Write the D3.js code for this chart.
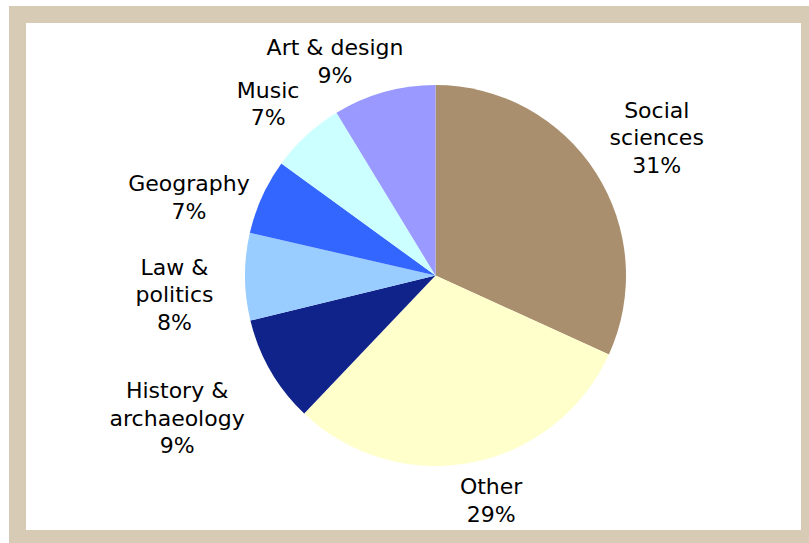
<!DOCTYPE html>
<html>
<head>
<meta charset="utf-8">
<script src="https://cdn.jsdelivr.net/npm/d3@7"></script>
<style>
  body { margin: 0; background: #ffffff; }
  text { font-family: "DejaVu Sans", Verdana, sans-serif; }
</style>
</head>
<body>
<div id="chart"></div>
<script>
// slice data, clockwise from 12 o'clock
var categories = ["Social sciences", "Other", "History & archaeology", "Law & politics", "Geography", "Music", "Art & design"]
var values = [31.8, 30.3, 9.1, 7.4, 6.4, 6.3, 8.7]
var pctLabels = ["31%", "29%", "9%", "8%", "7%", "7%", "9%"]
var labelLines = [["Social", "sciences"], ["Other"], ["History &", "archaeology"], ["Law &", "politics"], ["Geography"], ["Music"], ["Art & design"]]

var colors = ["#a98f6d", "#ffffcc", "#0f238a", "#99ccff", "#3366ff", "#ccffff", "#9999ff"]
// hand nudges for the label blocks (Excel placed them a bit freely)
var labelNudge = [[11, -3], [8, -21], [-42, 17], [-11, 17], [-19, 25], [2, 12], [-33, 26]]

const W = 809, H = 543
var cx = 435.5, cy = 275.5, radius = 190.5
var lineH = 27.5

var svg = d3.select("#chart")
  .append("svg")
  .attr("width", W)
  .attr("height", H)

// beige frame + white plot area
svg.append("rect")
  .attr("x", 9).attr("y", 6)
  .attr("width", W).attr("height", H)
  .attr("fill", "#d8cbb5")
svg.append("rect")
  .attr("x", 26).attr("y", 23)
  .attr("width", 775).attr("height", 507)
  .attr("fill", "#ffffff")

var data = categories.map(function(c, i) {
  return { name: c, value: values[i], pct: pctLabels[i], lines: labelLines[i], color: colors[i], nudge: labelNudge[i] }
})

var pie = d3.pie()
  .sort(null)
  .value(function(d) { return d.value; })

var arc = d3.arc().innerRadius(0).outerRadius(radius)
var labelArc = d3.arc().innerRadius(250).outerRadius(250)

var g = svg.append("g")
  .attr("transform", "translate(" + cx + "," + cy + ")")

var arcs = pie(data)

g.selectAll("path")
  .data(arcs)
  .enter()
  .append("path")
  .attr("d", arc)
  .attr("fill", function(d) { return d.data.color; })

var labels = g.selectAll("text.lbl")
  .data(arcs)
  .enter()
  .append("text")
  .attr("class", "lbl")
  .attr("text-anchor", "middle")
  .attr("font-size", 22)
  .attr("fill", "#000000")
  .attr("transform", function(d) {
    var c = labelArc.centroid(d)
    var n = d.data.lines.length + 1
    var x = c[0] + d.data.nudge[0]
    // block centred vertically, baseline offset ~0.36em
    var y = c[1] + d.data.nudge[1] - (n - 1) * lineH / 2 + 8
    return "translate(" + x + "," + y + ")"
  })

labels.each(function(d) {
  var t = d3.select(this)
  var all = d.data.lines.concat([d.data.pct])
  all.forEach(function(s, i) {
    t.append("tspan")
      .attr("x", 0)
      .attr("dy", i == 0 ? 0 : lineH)
      .text(s)
  })
})
</script>
</body>
</html>
